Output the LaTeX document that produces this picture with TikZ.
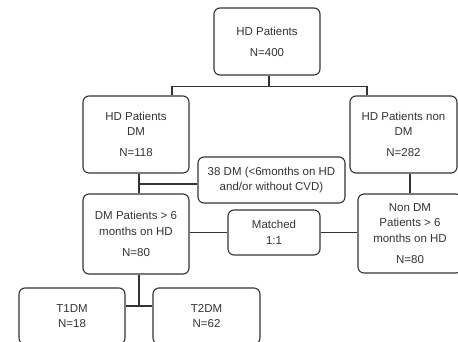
\documentclass[tikz,border=0pt]{standalone}
\usepackage{fontspec}
\setmainfont{Liberation Sans}

\begin{document}
\begin{tikzpicture}[x=1pt,y=-1pt,
		box/.style={draw=black!80,line width=1.1pt,rounded corners=6pt,align=center,text=black!80,
			font=\fontsize{11.5}{15.5}\selectfont,inner sep=0pt},
		link/.style={draw=black!80,line width=1.1pt}]
		\path[use as bounding box,clip](0,0)rectangle(458,341);

		\node[box,minimum width=106,minimum height=67] at (267,41.5)(all){HD Patients\\[5.5pt]N=400};
		\node[box,minimum width=106,minimum height=77] at (136,134.5)(dm){HD Patients\\DM\\[5.5pt]N=118};
		\node[box,minimum width=107,minimum height=77] at (403.5,134.5)(ndm){HD Patients non\\DM\\[5.5pt]N=282};
		\node[box,minimum width=147,minimum height=46] at (271.5,180)(excl){38 DM (<6months on HD\\and/or without CVD)};

		\node[box,minimum width=106,minimum height=80] at (136,234)(dmsix){DM Patients > 6\\months on HD\\[5.5pt]N=80};
		\node[box,minimum width=92,minimum height=45] at (274,232.5)(match){Matched\\1:1};
		\node[box,minimum width=104,minimum height=79] at (410,233.5)(ndmsix){Non DM\\Patients > 6\\months on HD\\[5.5pt]N=80};

		\node[box,minimum width=106,minimum height=56] at (72,316)(tone){T1DM\\N=18};
		\node[box,minimum width=107,minimum height=56] at (206.5,316)(ttwo){T2DM\\N=62};

		\coordinate (split) at ([xshift=2pt,yshift=-11pt]all.south);
		\path[link]([xshift=2pt]all.south)--(split);
		\path[link]([xshift=36pt]dm.north)|-(split)-|([xshift=-36.5pt]ndm.north);

		\coordinate (dmdrop) at ([xshift=3pt]dm.south);
		\coordinate (exclin) at ([yshift=-4pt]excl.west);
		\path[link](dmdrop)--(dmdrop|-dmsix.north)(exclin)--(exclin-|dmdrop);
		\path[link](ndmsix.north)--(ndmsix.north|-ndm.south);
		\path[link](match.west)--(match.west-|dmsix.east)(match.east)--(match.east-|ndmsix.west);

		\coordinate (split2) at ([xshift=3pt,yshift=-32pt]dmsix.south);
		\path[link]([xshift=3pt]dmsix.south)--(split2)([yshift=10pt]tone.east)--([yshift=10pt]ttwo.west);
	\end{tikzpicture}
\end{document}
